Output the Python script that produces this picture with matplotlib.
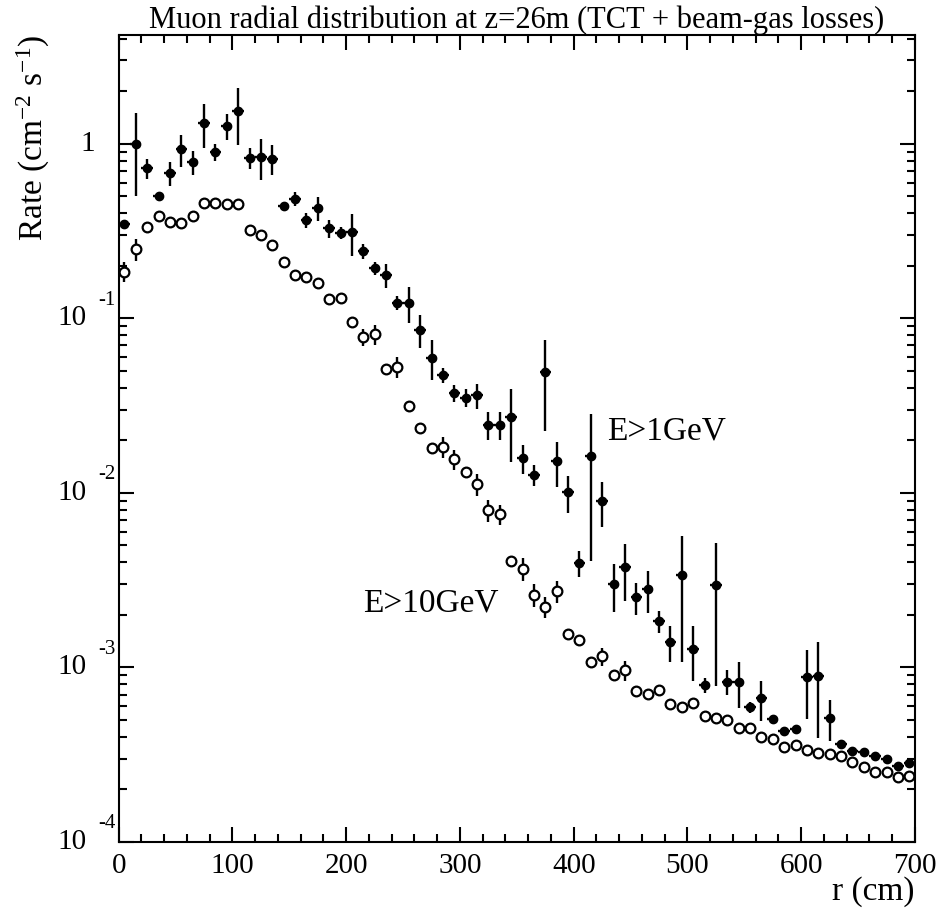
import numpy as np
import matplotlib
matplotlib.use('Agg')
import matplotlib.pyplot as plt
from matplotlib.ticker import LogLocator, NullFormatter, MultipleLocator

plt.rcParams['font.family'] = ['Liberation Serif', 'DejaVu Serif']
plt.rcParams['mathtext.fontset'] = 'custom'
plt.rcParams['mathtext.rm'] = 'Liberation Serif'
plt.rcParams['mathtext.default'] = 'regular'

# bin centres (cm), 10 cm bins
r = np.arange(5, 700, 10)

# E>1GeV (filled)
rate_1gev = [0.347, 1.0, 0.725, 0.50, 0.68, 0.93, 0.785, 1.31, 0.90, 1.27,
             1.54, 0.83, 0.84, 0.82, 0.442, 0.483, 0.367, 0.43, 0.329, 0.308,
             0.312, 0.242, 0.194, 0.177, 0.123, 0.123, 0.0857, 0.0596, 0.0474, 0.0373,
             0.0352, 0.0363, 0.0245, 0.0245, 0.0273, 0.0158, 0.0127, 0.049, 0.0152, 0.0101,
             0.00397, 0.0162, 0.0090, 0.00299, 0.00375, 0.00252, 0.0028, 0.00185, 0.0014, 0.00337,
             0.00128, 0.000792, 0.00298, 0.000828, 0.000828, 0.000593, 0.000665, 0.000507, 0.000435, 0.000444,
             0.000885, 0.000897, 0.000512, 0.000364, 0.000334, 0.000327, 0.000311, 0.000298, 0.000273, 0.000283]
err_1gev = [0.02, 0.5, 0.094, 0.03, 0.108, 0.19, 0.12, 0.37, 0.10, 0.22,
            0.56, 0.11, 0.22, 0.16, 0.02, 0.043, 0.036, 0.068, 0.039, 0.024,
            0.085, 0.023, 0.016, 0.027, 0.012, 0.029, 0.0185, 0.0153, 0.0045, 0.0042,
            0.004, 0.006, 0.0045, 0.0045, 0.0122, 0.0029, 0.0017, 0.0265, 0.0044, 0.0024,
            0.00066, 0.0121, 0.0026, 0.00091, 0.00134, 0.00051, 0.00076, 0.00027, 0.00033, 0.0023,
            0.00044, 0.00008, 0.0022, 0.000135, 0.00024, 0.000043, 0.00017, 0.00003, 0.00001, 0.00001,
            0.00038, 0.0005, 0.000135, 0.00001, 0.00001, 0.00001, 0.00001, 0.00001, 0.00001, 0.00001]

# E>10GeV (open)
rate_10gev = [0.185, 0.249, 0.333, 0.387, 0.358, 0.352, 0.386, 0.458, 0.458, 0.454,
              0.450, 0.322, 0.300, 0.263, 0.209, 0.177, 0.173, 0.159, 0.129, 0.130,
              0.0953, 0.0779, 0.081, 0.0516, 0.0527, 0.0313, 0.0236, 0.018, 0.0183, 0.0156,
              0.0132, 0.0112, 0.00793, 0.00755, 0.0041, 0.00368, 0.00261, 0.00223, 0.00273, 0.00155,
              0.00143, 0.00108, 0.00116, 0.000900, 0.000963, 0.000736, 0.000707, 0.000742, 0.00062, 0.00059,
              0.000622, 0.00053, 0.000512, 0.0005, 0.000452, 0.000448, 0.000402, 0.000389, 0.000352, 0.00036,
              0.000337, 0.000323, 0.000318, 0.000311, 0.000286, 0.00027, 0.000253, 0.000253, 0.000236, 0.000239]
err_10gev = [0.024, 0.036, 0.008, 0.008, 0.008, 0.008, 0.008, 0.008, 0.008, 0.008,
             0.008, 0.006, 0.006, 0.005, 0.004, 0.004, 0.004, 0.004, 0.003, 0.003,
             0.002, 0.0085, 0.0105, 0.002, 0.0073, 0.0008, 0.0006, 0.0005, 0.0025, 0.002,
             0.0004, 0.0016, 0.00115, 0.001, 0.0001, 0.00054, 0.00038, 0.00031, 0.00038, 0.00004,
             0.00004, 0.00003, 0.00014, 0.00003, 0.00013, 0.00002, 0.00002, 0.00002, 0.00002, 0.00002,
             0.00002, 0.00001, 0.00001, 0.00001, 0.00001, 0.00001, 0.00001, 0.00001, 0.00001, 0.00001,
             0.00001, 0.00001, 0.00001, 0.00001, 0.00001, 0.00001, 0.00001, 0.00001, 0.00001, 0.00001]

fig = plt.figure(figsize=(9.37, 9.11), dpi=100)
ax = fig.add_axes([0.1267, 0.0757, 0.8498, 0.8859])

ax.errorbar(r, rate_1gev, yerr=err_1gev, xerr=5, fmt='o', color='black',
            ms=6, elinewidth=1.7, capsize=0, zorder=3)
ax.errorbar(r, rate_10gev, yerr=err_10gev, fmt='o', mfc='white', mec='black',
            mew=1.6, ms=7, ecolor='black', elinewidth=1.7, capsize=0, zorder=2)

ax.set_yscale('log')
ax.set_xlim(0, 700)
ax.set_ylim(1e-4, 4.2)

ax.xaxis.set_major_locator(MultipleLocator(100))
ax.xaxis.set_minor_locator(MultipleLocator(20))
ax.yaxis.set_major_locator(LogLocator(base=10, numticks=10))
ax.yaxis.set_minor_locator(LogLocator(base=10, subs=np.arange(2, 10), numticks=20))
ax.yaxis.set_major_formatter(NullFormatter())
ax.yaxis.set_minor_formatter(NullFormatter())

ax.tick_params(which='both', direction='in', top=True, right=True, width=1.5)
ax.tick_params(which='major', length=11)
ax.tick_params(which='minor', length=5.5)
ax.tick_params(axis='x', labelsize=21, pad=8)
for s in ax.spines.values():
    s.set_linewidth(1.5)

# ROOT-style decade labels
for k in [-4, -3, -2, -1]:
    ax.annotate('10', xy=(0, 10.0 ** k), xycoords=('axes fraction', 'data'),
                xytext=(-23, 0), textcoords='offset points',
                ha='right', va='center', fontsize=21)
    ax.annotate(str(k), xy=(0, 10.0 ** k), xycoords=('axes fraction', 'data'),
                xytext=(-15, 13), textcoords='offset points',
                ha='left', va='center', fontsize=15)
ax.annotate('1', xy=(0, 1.0), xycoords=('axes fraction', 'data'),
            xytext=(-17, 0), textcoords='offset points',
            ha='right', va='center', fontsize=21)

ax.set_xlabel('r (cm)', fontsize=24, loc='right')
ax.set_ylabel('Rate (cm$^{-2}$ s$^{-1}$)', fontsize=24, loc='top')
ax.yaxis.set_label_coords(-0.084, 1.0)
ax.xaxis.set_label_coords(1.0, -0.042)

ax.set_title('Muon radial distribution at z=26m (TCT + beam-gas losses)',
             fontsize=22, pad=1)

ax.text(429, 0.0226, 'E>1GeV', fontsize=24, va='center', ha='left')
ax.text(215, 0.00232, 'E>10GeV', fontsize=24, va='center', ha='left')

fig.savefig('out.png', dpi=100)
